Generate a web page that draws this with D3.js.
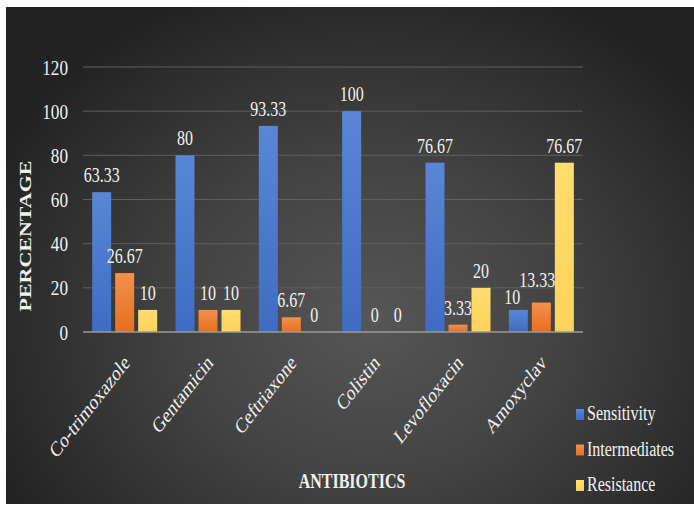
<!DOCTYPE html>
<html>
<head>
<meta charset="utf-8">
<script src="https://cdn.jsdelivr.net/npm/d3@7"></script>
<style>
  html, body { margin: 0; padding: 0; background: #ffffff; }
  svg { display: block; }
  text { font-family: "Liberation Serif", "Times New Roman", serif; fill: #f2f2f2; }
</style>
</head>
<body>
<svg id="chart" width="694" height="506"></svg>
<script>
// Antibiotic susceptibility (%) by drug
const categories = ["Co-trimoxazole", "Gentamicin", "Ceftriaxone", "Colistin", "Levofloxacin", "Amoxyclav"];
const seriesNames = ["Sensitivity", "Intermediates", "Resistance"];
const sensitivity   = [63.33, 80, 93.33, 100, 76.67, 10];
const intermediates = [26.67, 10, 6.67, 0, 3.33, 13.33];
const resistance    = [10, 10, 0, 0, 20, 76.67];
const yTicks = [0, 20, 40, 60, 80, 100, 120];
const seriesValues = [sensitivity, intermediates, resistance];

const colors = {
  Sensitivity:   ["#5a86d6", "#3f6cc2"],
  Intermediates: ["#f3904d", "#e66f1f"],
  Resistance:    ["#ffdd70", "#fdd35a"]
};

// Horizontal squeeze applied to all lettering
const SX = 0.78;

const svg = d3.select("#chart");
const defs = svg.append("defs");

const bg = defs.append("radialGradient").attr("id", "bg")
  .attr("gradientUnits", "userSpaceOnUse")
  .attr("cx", 370).attr("cy", 320).attr("r", 420)
  .attr("gradientTransform", "translate(370,320) scale(1,0.85) translate(-370,-320)");
bg.append("stop").attr("offset", "0%").attr("stop-color", "#565656");
bg.append("stop").attr("offset", "45%").attr("stop-color", "#434343");
bg.append("stop").attr("offset", "100%").attr("stop-color", "#222222");

seriesNames.forEach((s, i) => {
  const g = defs.append("linearGradient").attr("id", "g" + i)
    .attr("x1", 0).attr("y1", 0).attr("x2", 0).attr("y2", 1);
  g.append("stop").attr("offset", "0%").attr("stop-color", colors[s][0]);
  g.append("stop").attr("offset", "100%").attr("stop-color", colors[s][1]);
});

// Panel
svg.append("rect").attr("x", 6).attr("y", 7).attr("width", 688).attr("height", 497)
  .attr("fill", "url(#bg)");

const plot = { left: 83, right: 583, top: 67, bottom: 332 };

const x0 = d3.scaleBand().domain(categories)
  .range([plot.left, plot.right]).paddingInner(0.22).paddingOuter(0.11);
const x1 = d3.scaleBand().domain(seriesNames)
  .range([0, x0.bandwidth()]).paddingInner(0.174).paddingOuter(0);
const y = d3.scaleLinear().domain([0, 120]).range([plot.bottom, plot.top]);

// Gridlines
svg.append("g").selectAll("line").data(yTicks.filter(t => t > 0)).join("line")
  .attr("x1", plot.left).attr("x2", plot.right)
  .attr("y1", d => y(d)).attr("y2", d => y(d))
  .attr("stroke", "#5e5e5e").attr("stroke-width", 1);

// Y tick labels
svg.append("g").selectAll("text").data(yTicks).join("text")
  .attr("transform", d => `translate(68,${y(d) + 7.5}) scale(${SX},1)`)
  .attr("text-anchor", "end")
  .attr("font-size", 22)
  .text(d => d);

// Bars
const rows = categories.map((c, ci) => ({
  cat: c,
  vals: seriesNames.map((s, si) => ({ series: s, si, value: seriesValues[si][ci] }))
}));

const groups = svg.append("g").selectAll("g").data(rows).join("g")
  .attr("transform", d => `translate(${x0(d.cat)},0)`);

groups.selectAll("rect").data(d => d.vals).join("rect")
  .attr("x", d => x1(d.series))
  .attr("width", x1.bandwidth())
  .attr("y", d => y(d.value))
  .attr("height", d => y(0) - y(d.value))
  .attr("fill", d => `url(#g${d.si})`);

// Value labels (a couple nudged apart where neighbours collide)
const nudge = { "Amoxyclav|Sensitivity": [-6, 4], "Amoxyclav|Intermediates": [-4, -6] };
groups.selectAll("text").data(d => d.vals.map(v => ({ ...v, cat: d.cat }))).join("text")
  .attr("transform", d => {
    const n = nudge[d.cat + "|" + d.series] || [0, 0];
    const cx = x1(d.series) + x1.bandwidth() / 2 + n[0];
    const cy = y(d.value) - 10 + n[1];
    return `translate(${cx},${cy}) scale(${SX},1)`;
  })
  .attr("text-anchor", "middle")
  .attr("font-size", 20.5)
  .text(d => d.value);

// Baseline
svg.append("line")
  .attr("x1", plot.left).attr("x2", plot.right)
  .attr("y1", y(0)).attr("y2", y(0))
  .attr("stroke", "#9a9a9a").attr("stroke-width", 1.5);

// Category labels, rotated
svg.append("g").selectAll("text").data(categories).join("text")
  .attr("transform", d => {
    const cx = x0(d) + x0.bandwidth() / 2 + 6;
    return `translate(${cx},364) scale(${SX},1) rotate(-45)`;
  })
  .attr("text-anchor", "end")
  .attr("font-size", 21.5)
  .text(d => d);

// Axis titles
svg.append("text")
  .attr("transform", `translate(31,236) scale(0.76,1) rotate(-90)`)
  .attr("text-anchor", "middle")
  .attr("font-size", 22)
  .attr("font-weight", "bold")
  .text("PERCENTAGE");

svg.append("text")
  .attr("transform", `translate(352,488) scale(0.8,1)`)
  .attr("text-anchor", "middle")
  .attr("font-size", 20)
  .attr("font-weight", "bold")
  .text("ANTIBIOTICS");

// Legend
const legend = svg.append("g").selectAll("g").data(seriesNames).join("g")
  .attr("transform", (d, i) => `translate(576,${420 + i * 35.5})`);
legend.append("rect")
  .attr("x", 0).attr("y", -11).attr("width", 8).attr("height", 11)
  .attr("fill", (d, i) => `url(#g${i})`);
legend.append("text")
  .attr("transform", `translate(11,0) scale(0.8,1)`)
  .attr("font-size", 20)
  .text(d => d);
</script>
</body>
</html>
